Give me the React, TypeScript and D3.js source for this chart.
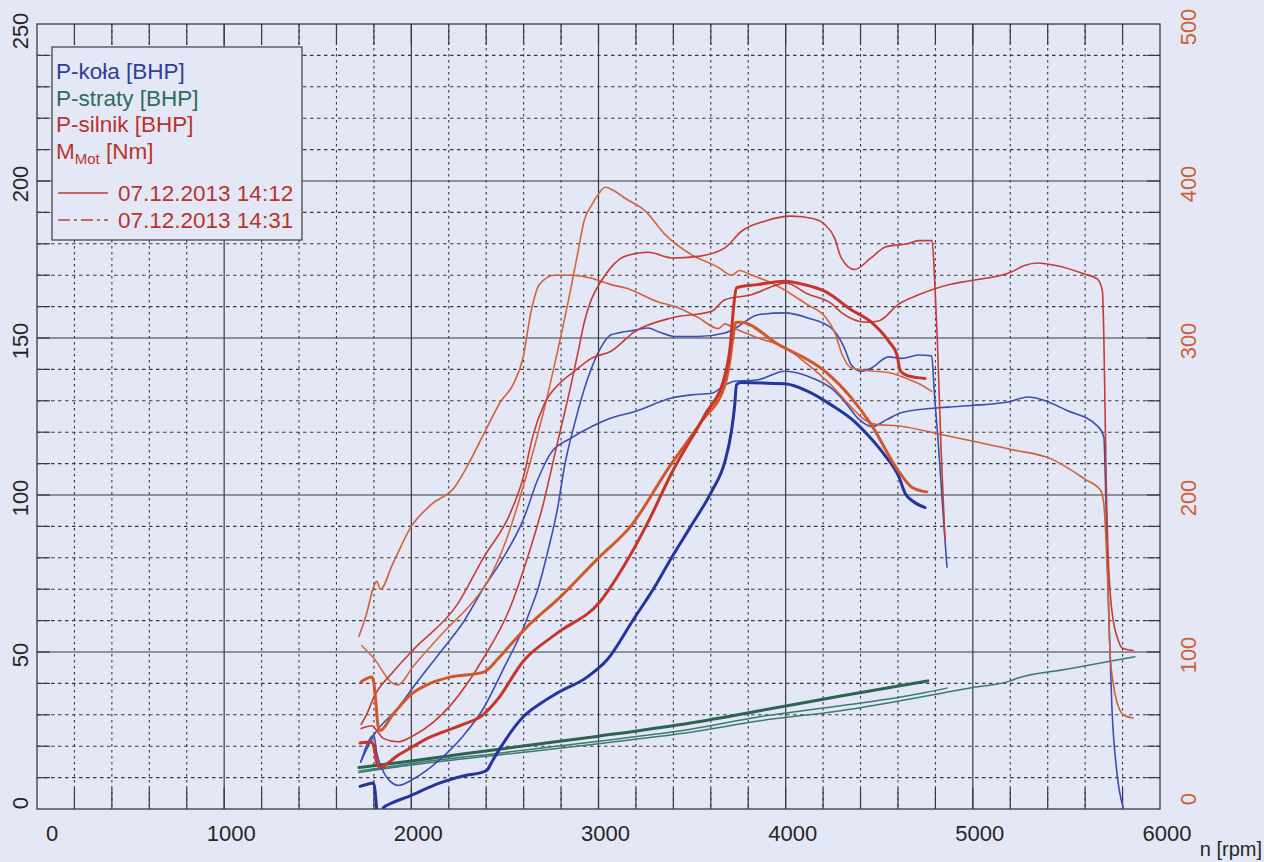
import React from 'react';
import * as d3 from 'd3';

type Pt = [number, number];

const rpmLabels = [0, 1000, 2000, 3000, 4000, 5000, 6000];
const bhpLabels = [0, 50, 100, 150, 200, 250];
const nmLabels = [0, 100, 200, 300, 400, 500];

const legendItems = ['P-koła [BHP]', 'P-straty [BHP]', 'P-silnik [BHP]'];
const runLabels = ['07.12.2013 14:12', '07.12.2013 14:31'];

// P-koła [BHP] (wheel power)
const kolaA: Pt[] = [[1730,15],[1800,23.5],[1815,18],[1850,12],[1900,8.2],[1930,7.5],[2015,9.7],[2138,15],[2280,23.5],[2385,32],[2491,44.5],[2597,57.5],[2640,64],[2676,70],[2729,82],[2782,96],[2818,109],[2871,122.4],[2942,137],[3013,147],[3067,151],[3195,152.5],[3266,153.2],[3320,152],[3408,150.5],[3533,150.5],[3675,151.6],[3728,153],[3853,157.4],[3995,158],[4119,156.4],[4243,153.2],[4314,146.8],[4350,141.5],[4403,139.4],[4456,140.4],[4550,144],[4621,143.5],[4710,144.6],[4780,144.3],[4795,132],[4816,116],[4840,95],[4862,77]];
const kolaB: Pt[] = [[1726,7.2],[1760,7.8],[1797,8.3],[1806,6],[1812,2],[1818,-2],[1835,-3],[1849,0.3],[1900,2],[1977,3.8],[2154,8.3],[2300,10.8],[2368,11.5],[2405,12.4],[2430,15],[2458,17.8],[2597,29.3],[2700,34],[2779,36.9],[2939,42],[3046,47.5],[3185,60.2],[3313,72],[3383,79.3],[3497,90.4],[3604,101.1],[3675,110.6],[3710,120.2],[3728,128.7],[3737,135.1],[3760,135.8],[3995,135.4],[4119,133],[4243,128.7],[4368,123.4],[4444,118.8],[4533,112.4],[4604,105.9],[4639,100.5],[4680,98],[4745,96]];
const kolaC: Pt[] = [[1730,15],[1800,23.5],[1926,32],[2032,40.5],[2156,50],[2280,59.7],[2385,70.3],[2491,80],[2597,92],[2676,105],[2747,113.5],[2853,118.1],[2964,121.8],[3067,124.5],[3195,126.6],[3391,130.9],[3497,131.9],[3604,132.4],[3675,135],[3728,136.2],[3853,136.7],[3995,139.4],[4119,137.8],[4243,134],[4314,129.8],[4385,124.5],[4462,121.8],[4540,124],[4621,126.3],[4869,128],[4993,128.5],[5188,129.6],[5294,131.2],[5382,130.1],[5500,127],[5665,122],[5700,118.5],[5708,105],[5716,85],[5730,55],[5743,32.5],[5770,11.5],[5803,0.5]];

// P-straty [BHP] (losses)
const strataA: Pt[] = [[1720,12.1],[2000,14.5],[2500,18],[3000,21.6],[3500,25.5],[3862,29.4],[4294,32.9],[4600,35.5],[4740,37],[4862,38.5]];
const strataB: Pt[] = [[1720,13.2],[2000,15.3],[2500,19.3],[3000,23.2],[3500,27.5],[3862,31.3],[4294,36],[4760,40.8]];
const strataC: Pt[] = [[1720,11.6],[2000,14],[2500,17.4],[3000,20.8],[3500,24.5],[3862,28.1],[4294,31.3],[5000,38.7],[5200,40.8],[5230,41.5],[5500,44.5],[5866,48.5]];

// P-silnik [BHP] (engine power)
const silnikA: Pt[] = [[1732,25.6],[1790,26.5],[1815,25],[1850,22.5],[1926,21.4],[2015,23.5],[2209,33],[2385,48],[2527,64],[2615,79],[2700,96],[2782,117],[2853,135],[2889,145],[2924,155],[2960,162],[3013,168],[3067,172.5],[3142,176],[3266,177.3],[3391,175.5],[3533,176],[3675,178.7],[3764,184],[3888,187.2],[4030,188.8],[4150,188],[4208,186.2],[4261,181.9],[4297,175.5],[4368,171.8],[4456,175.5],[4533,179],[4650,180],[4710,181],[4782,181],[4795,170],[4810,150],[4830,115],[4851,86]];
const silnikB: Pt[] = [[1726,21],[1790,21.3],[1803,19],[1816,14.6],[1833,13.4],[1926,17],[1977,18.8],[2103,23],[2154,24.2],[2280,27],[2383,30],[2458,34.7],[2597,47],[2779,56],[3008,66],[3142,78],[3270,92],[3391,107],[3568,125.5],[3675,138],[3705,148],[3722,160],[3737,166],[3850,167],[3995,168.1],[4100,167],[4208,164.9],[4350,159],[4462,154.8],[4550,149],[4595,144.6],[4612,139.5],[4650,138],[4745,137.1]];
const silnikC: Pt[] = [[1732,27],[1760,30],[1803,36],[1900,43.5],[2015,51],[2244,65],[2385,80],[2527,94],[2600,106],[2650,119],[2711,129],[2800,136],[2871,139.4],[2964,143.6],[3067,145.8],[3195,152.1],[3391,156.4],[3604,158.5],[3675,162.2],[3817,163.8],[3959,167],[4000,167.5],[4119,164],[4243,161],[4300,158],[4434,155],[4500,155.5],[4604,160.8],[4700,163.5],[4887,167.2],[4993,168.3],[5205,171],[5276,173.1],[5347,173.9],[5450,173],[5595,170.4],[5665,168.8],[5692,165],[5700,150],[5707,125],[5714,100],[5722,82],[5735,68],[5750,60],[5770,55],[5797,51.3],[5856,50.5]];

// M_Mot [Nm] (engine torque, right axis)
const torqueA: Pt[] = [[1735,104],[1800,96],[1891,81],[1926,79],[2015,91.6],[2191,115],[2300,128],[2403,144],[2509,172],[2604,208],[2700,250],[2782,292],[2853,332],[2889,354],[2924,375],[2960,384],[2996,391],[3036,396],[3080,394],[3142,389],[3249,381],[3355,366],[3497,353],[3640,345],[3710,340],[3755,343],[3800,341],[3959,333],[4119,321],[4208,314],[4261,304],[4300,290],[4350,281],[4456,279],[4550,278],[4650,274],[4710,271],[4780,266]];
const torqueB: Pt[] = [[1732,81],[1790,84],[1800,80],[1812,66],[1822,53],[1833,50],[1900,60],[2009,74],[2100,80],[2207,84],[2383,87],[2420,90],[2458,95],[2618,116],[2795,135],[2992,159],[3178,181],[3373,217],[3551,247],[3675,270],[3700,284],[3718,300],[3735,310],[3760,310],[3959,296],[4208,279],[4350,262],[4456,245],[4604,215],[4674,205],[4754,202]];
const torqueC: Pt[] = [[1720,110],[1760,124],[1800,142],[1815,145],[1835,140],[1900,156],[2000,180],[2107,194],[2231,205],[2302,219],[2400,242],[2480,260],[2542,270],[2596,287],[2640,317],[2684,334],[2764,340],[2853,340],[2964,338],[3066,334],[3142,332],[3320,323],[3408,320],[3533,313],[3640,306],[3675,309],[3728,306],[3853,300],[3995,294],[4119,283],[4243,270],[4350,256],[4420,248],[4480,245],[4604,244],[4851,238],[5205,229],[5418,223],[5600,210],[5683,203],[5700,194],[5712,170],[5722,140],[5733,100],[5750,80],[5770,68],[5786,63],[5803,60],[5856,58]];

const BG = '#e4e8f6';
const FONT = 'Liberation Sans, Arial, Helvetica, sans-serif';

export default function App() {
  const W = 1264, H = 862;
  const L = 37, R = 1160, T = 24, B = 809;
  const x = d3.scaleLinear().domain([0, 6000]).range([L, R]);
  const yL = d3.scaleLinear().domain([0, 250]).range([B, T]);
  const yR = d3.scaleLinear().domain([0, 500]).range([B, T]);

  const minorX = d3.range(200, 6000, 200);
  const minorY = d3.range(10, 250, 10);

  const lineL = d3.line<Pt>().x(d => x(d[0])).y(d => yL(d[1])).curve(d3.curveMonotoneX);
  const lineR = d3.line<Pt>().x(d => x(d[0])).y(d => yR(d[1])).curve(d3.curveMonotoneX);

  const series = [
    { d: strataA, f: lineL, c: '#3b7a70', w: 1.5 },
    { d: strataC, f: lineL, c: '#3b7a70', w: 1.5 },
    { d: strataB, f: lineL, c: '#2b6552', w: 3 },
    { d: kolaA, f: lineL, c: '#3d4fae', w: 1.6 },
    { d: kolaC, f: lineL, c: '#3d4fae', w: 1.6 },
    { d: torqueA, f: lineR, c: '#d4663c', w: 1.6 },
    { d: torqueC, f: lineR, c: '#d0603a', w: 1.6 },
    { d: silnikA, f: lineL, c: '#c43d33', w: 1.6 },
    { d: silnikC, f: lineL, c: '#c43d33', w: 1.6 },
    { d: kolaB, f: lineL, c: '#24359c', w: 3 },
    { d: torqueB, f: lineR, c: '#d2582c', w: 3 },
    { d: silnikB, f: lineL, c: '#c7352a', w: 3 },
  ];

  const gridColor = '#3a3a3a';

  return (
    <svg width={W} height={H} viewBox={`0 0 ${W} ${H}`} style={{ position: 'absolute', left: 0, top: 0, display: 'block' }} fontFamily={FONT}>
      <defs>
        <clipPath id="plotClip">
          <rect x={L} y={T} width={R - L} height={B - T} />
        </clipPath>
      </defs>
      <rect x={0} y={0} width={W} height={H} fill={BG} />

      {/* minor grid */}
      {minorX.filter(v => v % 1000 !== 0).map(v => (
        <line key={'mx' + v} x1={x(v)} x2={x(v)} y1={T} y2={B} stroke={gridColor} strokeWidth={1.1} strokeDasharray="2.5,3.5" />
      ))}
      {minorY.filter(v => v % 50 !== 0).map(v => (
        <line key={'my' + v} x1={L} x2={R} y1={yL(v)} y2={yL(v)} stroke={gridColor} strokeWidth={1.1} strokeDasharray="3.5,3.5" />
      ))}
      {/* major grid */}
      {rpmLabels.slice(1, -1).map(v => (
        <line key={'Mx' + v} x1={x(v)} x2={x(v)} y1={T} y2={B} stroke={gridColor} strokeWidth={1.2} />
      ))}
      {bhpLabels.slice(1, -1).map(v => (
        <line key={'My' + v} x1={L} x2={R} y1={yL(v)} y2={yL(v)} stroke={gridColor} strokeWidth={1.2} />
      ))}
      {/* inward ticks */}
      {minorX.map(v => (
        <g key={'tx' + v}>
          <line x1={x(v)} x2={x(v)} y1={B} y2={B - 21} stroke={gridColor} strokeWidth={1.2} />
          <line x1={x(v)} x2={x(v)} y1={T} y2={T + 21} stroke={gridColor} strokeWidth={1.2} />
        </g>
      ))}
      {minorY.map(v => (
        <g key={'ty' + v}>
          <line x1={L} x2={L + 13} y1={yL(v)} y2={yL(v)} stroke={gridColor} strokeWidth={1.2} />
          <line x1={R} x2={R - 13} y1={yL(v)} y2={yL(v)} stroke={gridColor} strokeWidth={1.2} />
        </g>
      ))}
      <rect x={L} y={T} width={R - L} height={B - T} fill="none" stroke={gridColor} strokeWidth={1.3} />

      {/* curves */}
      <g clipPath="url(#plotClip)" fill="none" strokeLinejoin="round" strokeLinecap="round">
        {series.map((s, i) => (
          <path key={'s' + i} d={s.f(s.d) || ''} stroke={s.c} strokeWidth={s.w} />
        ))}
      </g>

      {/* x labels */}
      {rpmLabels.map(v => (
        <text key={'xl' + v} x={x(v) + (v === 0 ? 15 : 7)} y={841} fontSize={22} textAnchor="middle" fill="#262626">{v}</text>
      ))}
      <text x={1262} y={856} fontSize={20} textAnchor="end" fill="#262626">n [rpm]</text>

      {/* left labels */}
      {bhpLabels.map(v => {
        const cy = v === 0 ? yL(v) - 6 : v === 250 ? yL(v) + 7 : yL(v) + 3;
        return (
          <text key={'yl' + v} transform={`translate(28,${cy}) rotate(-90)`} fontSize={22} textAnchor="middle" fill="#262626">{v}</text>
        );
      })}
      {/* right labels */}
      {nmLabels.map(v => {
        const cy = v === 0 ? yR(v) - 10 : yR(v) + 3;
        return (
          <text key={'yr' + v} transform={`translate(1196,${cy}) rotate(-90)`} fontSize={22} textAnchor="middle" fill="#cc5f34">{v}</text>
        );
      })}

      {/* legend */}
      <rect x={52} y={47} width={250} height={193} fill={BG} stroke="#4a4a4a" strokeWidth={1.3} />
      <text x={56} y={79} fontSize={22.5} fill="#2e3f96">{legendItems[0]}</text>
      <text x={56} y={106} fontSize={22.5} fill="#2f6a5c">{legendItems[1]}</text>
      <text x={56} y={132} fontSize={22.5} fill="#b8342c">{legendItems[2]}</text>
      <text x={56} y={159} fontSize={22.5} fill="#b8342c">
        <tspan>M</tspan>
        <tspan dy={5} fontSize={15}>Mot</tspan>
        <tspan dy={-5}> [Nm]</tspan>
      </text>
      <line x1={58} x2={108} y1={193} y2={193} stroke="#c23a30" strokeWidth={1.4} />
      <text x={118} y={201} fontSize={22.5} fill="#b8342c">{runLabels[0]}</text>
      <line x1={58} x2={108} y1={220} y2={220} stroke="#c23a30" strokeWidth={1.4} strokeDasharray="12,4,3,4" />
      <text x={118} y={228} fontSize={22.5} fill="#b8342c">{runLabels[1]}</text>
    </svg>
  );
}
